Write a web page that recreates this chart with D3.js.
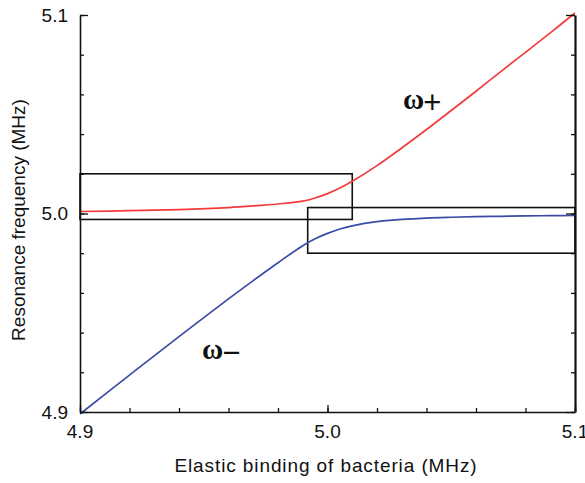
<!DOCTYPE html>
<html><head><meta charset="utf-8">
<script src="https://cdn.jsdelivr.net/npm/d3@7"></script>
<style>html,body{margin:0;padding:0;background:#fff}</style>
</head><body>
<svg id="chart" width="585" height="483"></svg>
<script>
// ---- data ----
const xDomain = [4.9, 5.1];
const yDomain = [4.9, 5.1];
const majorTicks = [4.9, 5.0, 5.1];
const minorTicks = [4.9, 4.92, 4.94, 4.96, 4.98, 5.0, 5.02, 5.04, 5.06, 5.08, 5.1];
const tickLabels = ["4.9", "5.0", "5.1"];

const omegaPlusX = [4.90, 4.92, 4.94, 4.96, 4.97, 4.98, 4.99, 4.995, 5.00, 5.005, 5.01, 5.02, 5.03, 5.04, 5.05, 5.06, 5.07, 5.08, 5.09, 5.10];
const omegaPlusY = [5.0010, 5.0014, 5.0020, 5.0030, 5.0038, 5.0048, 5.0062, 5.0078, 5.0100, 5.0128, 5.0162, 5.0241, 5.0330, 5.0423, 5.0519, 5.0616, 5.0715, 5.0812, 5.0910, 5.1010];

const omegaMinusX = [4.90, 4.92, 4.94, 4.96, 4.97, 4.98, 4.99, 4.995, 5.00, 5.005, 5.01, 5.02, 5.03, 5.04, 5.05, 5.06, 5.07, 5.08, 5.09, 5.10];
const omegaMinusY = [4.8990, 4.9186, 4.9380, 4.9570, 4.9662, 4.9752, 4.9838, 4.9873, 4.9900, 4.9922, 4.9938, 4.9959, 4.9970, 4.9977, 4.9981, 4.9984, 4.9986, 4.9988, 4.9989, 4.9990];

const boxX0 = [4.900, 4.992];
const boxX1 = [5.010, 5.100];
const boxY0 = [4.997, 4.980];
const boxY1 = [5.020, 5.003];

const xTitle = "Elastic binding of bacteria (MHz)";
const yTitle = "Resonance frequency (MHz)";
const seriesSymbol = ["ω", "ω"];
const seriesSign = ["+", "−"];
const seriesColors = ["#f43a3a", "#3b4ba6"];

// ---- drawing ----
const svg = d3.select("#chart");
const L = 80, R = 575, T = 15, B = 412;
const x = d3.scaleLinear().domain(xDomain).range([L, R]);
const y = d3.scaleLinear().domain(yDomain).range([B, T]);

// boxes
const boxes = boxX0.map((d, i) => ({x0: d, x1: boxX1[i], y0: boxY0[i], y1: boxY1[i]}));
svg.append("g").selectAll("rect").data(boxes).join("rect")
  .attr("x", d => x(d.x0)).attr("y", d => y(d.y1))
  .attr("width", d => x(d.x1) - x(d.x0)).attr("height", d => y(d.y0) - y(d.y1))
  .attr("fill", "none").attr("stroke", "#111").attr("stroke-width", 1.6);

// curves
const line = d3.line().x(d => x(d[0])).y(d => y(d[1])).curve(d3.curveCatmullRom.alpha(0.5));
const series = [
  d3.zip(omegaPlusX, omegaPlusY),
  d3.zip(omegaMinusX, omegaMinusY)
];
svg.append("g").selectAll("path").data(series).join("path")
  .attr("d", line).attr("fill", "none")
  .attr("stroke", (d, i) => seriesColors[i]).attr("stroke-width", 1.7);

// axes (ticks point inward)
function styleAxis(g) {
  g.select(".domain").attr("stroke", "#111");
  g.selectAll(".tick line").attr("stroke", "#111").attr("stroke-width", 1.3);
}
const fmtNone = () => "";
svg.append("g").attr("transform", `translate(0,${B})`)
  .call(d3.axisBottom(x).tickValues(minorTicks).tickSize(-4).tickSizeOuter(0).tickFormat(fmtNone))
  .call(styleAxis).call(g => g.select(".domain").attr("stroke-width", 1.6));
svg.append("g").attr("transform", `translate(0,${B})`)
  .call(d3.axisBottom(x).tickValues(majorTicks).tickSize(-7).tickSizeOuter(0).tickFormat(fmtNone))
  .call(styleAxis).call(g => g.select(".domain").remove());

svg.append("g").attr("transform", `translate(${L},0)`)
  .call(d3.axisLeft(y).tickValues(minorTicks).tickSize(-4).tickSizeOuter(0).tickFormat(fmtNone))
  .call(styleAxis).call(g => g.select(".domain").attr("stroke-width", 1.6));
svg.append("g").attr("transform", `translate(${L},0)`)
  .call(d3.axisLeft(y).tickValues(majorTicks).tickSize(-8).tickSizeOuter(0).tickFormat(fmtNone))
  .call(styleAxis).call(g => g.select(".domain").remove());

svg.append("g").attr("transform", `translate(${R},0)`)
  .call(d3.axisRight(y).tickValues(minorTicks).tickSize(-4).tickSizeOuter(0).tickFormat(fmtNone))
  .call(styleAxis).call(g => g.select(".domain").attr("stroke-width", 2.2));
svg.append("g").attr("transform", `translate(${R},0)`)
  .call(d3.axisRight(y).tickValues(majorTicks).tickSize(-9).tickSizeOuter(0).tickFormat(fmtNone))
  .call(styleAxis).call(g => g.select(".domain").remove());

// tick labels
const font = "'Liberation Sans', Arial, sans-serif";
svg.append("g").selectAll("text").data(majorTicks).join("text")
  .attr("x", L - 12).attr("y", d => y(d)).attr("dy", "0.36em")
  .attr("text-anchor", "end").attr("font-family", font).attr("font-size", 19).attr("fill", "#111")
  .text((d, i) => tickLabels[i]);
svg.append("g").selectAll("text").data(majorTicks).join("text")
  .attr("x", d => x(d)).attr("y", B + 26)
  .attr("text-anchor", "middle").attr("font-family", font).attr("font-size", 19).attr("fill", "#111")
  .text((d, i) => tickLabels[i]);

// axis titles
svg.append("text").attr("x", 326).attr("y", 472)
  .attr("text-anchor", "middle").attr("font-family", font).attr("font-size", 19)
  .attr("letter-spacing", 0.9).attr("fill", "#111")
  .text(xTitle);
svg.append("text").attr("transform", `translate(25,220) rotate(-90)`)
  .attr("text-anchor", "middle").attr("font-family", font).attr("font-size", 19).attr("fill", "#111")
  .text(yTitle);

// series labels
const labelPos = [[5.0305, 5.0526], [4.9493, 4.9267]];
const lbl = svg.append("g").selectAll("text").data(labelPos).join("text")
  .attr("x", d => x(d[0])).attr("y", d => y(d[1]))
  .attr("font-family", "'Liberation Serif', 'Times New Roman', serif")
  .attr("font-size", 29).attr("fill", "#111");
lbl.append("tspan").attr("font-weight", "bold").text((d, i) => seriesSymbol[i]);
lbl.append("tspan").attr("font-weight", "normal")
  .attr("font-family", "'Liberation Sans', Arial, sans-serif").attr("font-size", 31)
  .attr("dy", 4).attr("dx", -1)
  .text((d, i) => seriesSign[i]);
</script>
</body></html>
